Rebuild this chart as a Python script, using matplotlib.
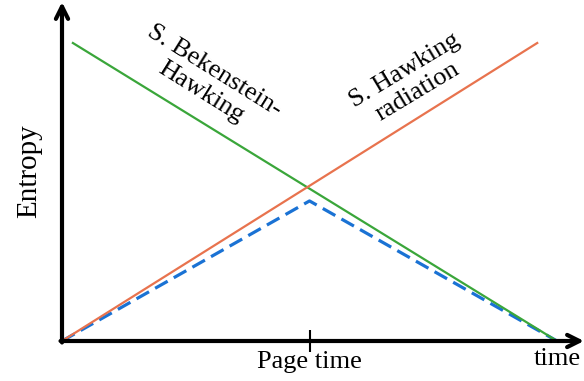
import matplotlib.pyplot as plt

plt.rcParams['font.family'] = ['Liberation Serif', 'DejaVu Serif']

# data (time and entropy in arbitrary units)
page_time = 0.5
t_bh = [0.022, 1.0]
s_bh = [1.0, 0.0]
t_rad = [0.0, 0.96]
s_rad = [0.0, 1.0]
t_ent = [0.0, page_time, 1.0]
s_ent = [0.0, 0.47, 0.0]
t_base = [0.0, 1.0]
s_base = [0.0, 0.0]

xmax = 1.0545
ymax = 1.1376

fig = plt.figure(figsize=(5.84, 3.81), dpi=100)
ax = fig.add_axes([62/584, 1-341/381, (584-62)/584, (341-2)/381])
ax.set_xlim(0, xmax)
ax.set_ylim(0, ymax)
for s in ax.spines.values():
    s.set_visible(False)

ax.plot(t_base, s_base, color='#1a72d4', lw=2.3, dashes=(4.5, 2.2), zorder=2)
ax.plot(t_ent, s_ent, color='#1a72d4', lw=2.3, dashes=(4.5, 2.2), zorder=3)
ax.plot(t_bh, s_bh, color='#3aa63a', lw=1.6, zorder=4)
ax.plot(t_rad, s_rad, color='#e8734e', lw=1.6, zorder=4)

# axes arrows
arrow = dict(arrowstyle='->', lw=3, color='black', mutation_scale=22,
             shrinkA=0, shrinkB=0)
ax.annotate('', xy=(xmax, 0), xytext=(-0.003, 0), arrowprops=arrow,
            annotation_clip=False, zorder=5)
ax.annotate('', xy=(0, ymax), xytext=(0, -0.005), arrowprops=arrow,
            annotation_clip=False, zorder=5)

ax.set_xticks([page_time])
ax.set_xticklabels(['Page time'], fontsize=19)
ax.tick_params(axis='x', direction='inout', length=16, width=1.5, pad=-1)
ax.set_yticks([])
ax.set_ylabel('Entropy', fontsize=21, labelpad=14)

ax.text(1.0, -0.06, 'time', fontsize=19, ha='center', va='center')
ax.text(0.295, 0.872, 'S. Bekenstein-\nHawking', fontsize=19, rotation=-32,
        ha='center', va='center', rotation_mode='anchor', linespacing=1.2)
ax.text(0.705, 0.872, 'S. Hawking\nradiation', fontsize=19, rotation=31,
        ha='center', va='center', rotation_mode='anchor', linespacing=1.2)

fig.savefig('out.png', dpi=100)
